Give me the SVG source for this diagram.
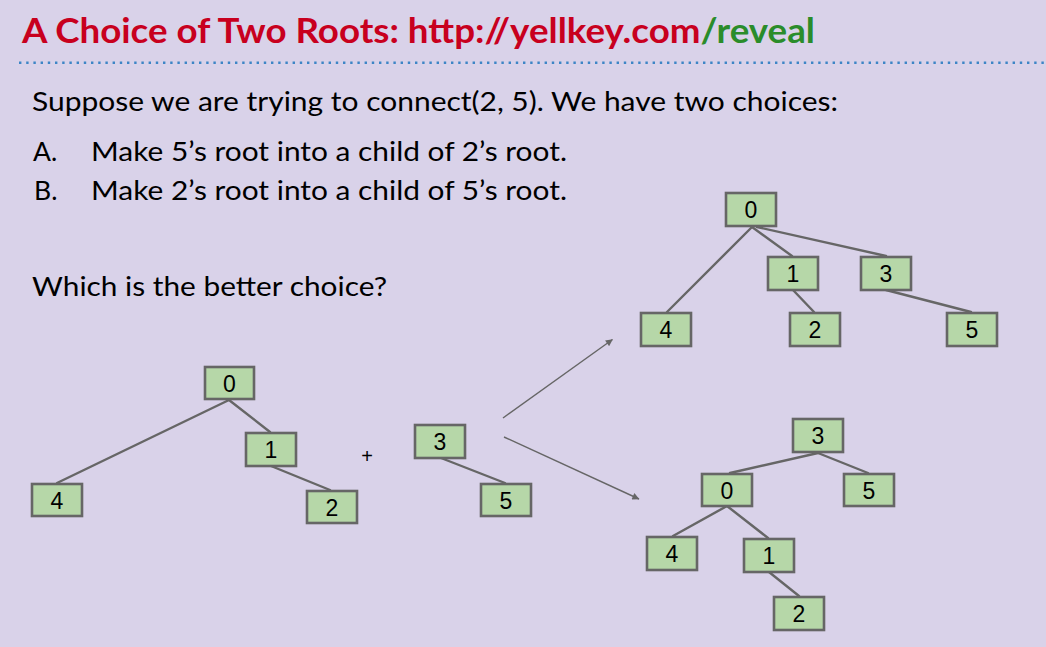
<svg xmlns="http://www.w3.org/2000/svg" width="1046" height="647" viewBox="0 0 1046 647">
  <defs>
    <marker id="arrow" viewBox="0 0 10 10" refX="9.5" refY="5" markerWidth="10" markerHeight="7" markerUnits="userSpaceOnUse" orient="auto">
      <path d="M0,0 L10,5 L0,10 z" fill="#666666"/>
    </marker>
    <style>
      .bg { fill: #d9d2e9; }
      .title { font-family: Lato, "Liberation Sans", sans-serif; font-weight: bold; font-size: 33.5px; fill: #c8001e; }
      .green { fill: #2a8c2a; }
      .body { font-family: Lato, "Liberation Sans", sans-serif; font-size: 26.5px; fill: #000000; }
      .node rect { fill: #b6d7a8; stroke: #666666; stroke-width: 2.6; }
      .node text { font-family: "Liberation Sans", Arial, sans-serif; font-size: 23px; fill: #000000; text-anchor: middle; }
      .edge { stroke: #666666; stroke-width: 2.4; fill: none; stroke-linecap: round; }
      .arrow { stroke: #666666; stroke-width: 1.4; fill: none; marker-end: url(#arrow); }
      .plus { font-family: "Liberation Sans", Arial, sans-serif; font-size: 20px; fill: #000000; text-anchor: middle; }
    </style>
  </defs>

  <rect class="bg" x="0" y="0" width="1046" height="647"/>

  <!-- Title -->
  <text class="title" x="22" y="43" textLength="793" lengthAdjust="spacingAndGlyphs">A Choice of Two Roots: http://yellkey.com<tspan class="green">/reveal</tspan></text>
  <line x1="19" y1="62.7" x2="1046" y2="62.7" stroke="#3d85c6" stroke-width="2.6" stroke-dasharray="2.4 4.8"/>

  <!-- Body text -->
  <text class="body" x="32" y="111" textLength="806" lengthAdjust="spacingAndGlyphs">Suppose we are trying to connect(2, 5). We have two choices:</text>
  <text class="body" x="33" y="160.5">A.</text>
  <text class="body" x="91" y="160.5" textLength="476" lengthAdjust="spacingAndGlyphs">Make 5’s root into a child of 2’s root.</text>
  <text class="body" x="34" y="200">B.</text>
  <text class="body" x="91" y="200" textLength="476" lengthAdjust="spacingAndGlyphs">Make 2’s root into a child of 5’s root.</text>
  <text class="body" x="32" y="296" textLength="355" lengthAdjust="spacingAndGlyphs">Which is the better choice?</text>

  <!-- Connectors -->
  <g id="connectors">
    <!-- left tree -->
    <line class="edge" x1="229" y1="400" x2="57" y2="483"/>
    <line class="edge" x1="229" y1="400" x2="270" y2="432"/>
    <line class="edge" x1="271" y1="466" x2="330" y2="490"/>
    <line class="edge" x1="441" y1="458" x2="505" y2="483"/>
    <!-- top-right tree -->
    <line class="edge" x1="752" y1="227" x2="667" y2="312"/>
    <line class="edge" x1="752" y1="227" x2="792" y2="256"/>
    <line class="edge" x1="757" y1="227" x2="886" y2="256"/>
    <line class="edge" x1="793" y1="290" x2="814" y2="312"/>
    <line class="edge" x1="886" y1="290" x2="971" y2="312"/>
    <!-- bottom-right tree -->
    <line class="edge" x1="818" y1="453" x2="730" y2="473"/>
    <line class="edge" x1="818" y1="453" x2="868" y2="473"/>
    <line class="edge" x1="727" y1="506" x2="673" y2="536"/>
    <line class="edge" x1="727" y1="506" x2="768" y2="538"/>
    <line class="edge" x1="769" y1="572" x2="799" y2="596"/>
    <!-- arrows -->
    <line class="arrow" x1="503" y1="418" x2="612.5" y2="339.5"/>
    <line class="arrow" x1="504" y1="437" x2="639" y2="499"/>
  </g>

  <text class="plus" x="367" y="463">+</text>

  <!-- Left tree nodes -->
  <g id="L0" class="node"><rect x="205" y="367" width="49" height="32"/><text x="229.5" y="392">0</text></g>
  <g id="L1" class="node"><rect x="246" y="433" width="50" height="33"/><text x="271" y="458">1</text></g>
  <g id="L4" class="node"><rect x="32" y="484" width="50" height="32"/><text x="57" y="509">4</text></g>
  <g id="L2" class="node"><rect x="307" y="491" width="50" height="32"/><text x="332" y="516">2</text></g>
  <g id="L3" class="node"><rect x="415" y="425" width="50" height="33"/><text x="440" y="450">3</text></g>
  <g id="L5" class="node"><rect x="481" y="484" width="50" height="32"/><text x="506" y="509">5</text></g>

  <!-- Top-right tree nodes -->
  <g id="T0" class="node"><rect x="726" y="193" width="50" height="33"/><text x="751" y="218">0</text></g>
  <g id="T1" class="node"><rect x="768" y="257" width="50" height="33"/><text x="793" y="282">1</text></g>
  <g id="T3" class="node"><rect x="861" y="257" width="50" height="33"/><text x="886" y="282">3</text></g>
  <g id="T4" class="node"><rect x="641" y="313" width="50" height="33"/><text x="666" y="338">4</text></g>
  <g id="T2" class="node"><rect x="790" y="313" width="50" height="33"/><text x="815" y="338">2</text></g>
  <g id="T5" class="node"><rect x="947" y="313" width="50" height="33"/><text x="972" y="338">5</text></g>

  <!-- Bottom-right tree nodes -->
  <g id="B3" class="node"><rect x="793" y="419" width="50" height="33"/><text x="818" y="444">3</text></g>
  <g id="B0" class="node"><rect x="702" y="474" width="50" height="32"/><text x="727" y="499">0</text></g>
  <g id="B5" class="node"><rect x="844" y="474" width="50" height="32"/><text x="869" y="499">5</text></g>
  <g id="B4" class="node"><rect x="647" y="537" width="50" height="33"/><text x="672" y="562">4</text></g>
  <g id="B1" class="node"><rect x="744" y="539" width="50" height="33"/><text x="769" y="564">1</text></g>
  <g id="B2" class="node"><rect x="774" y="597" width="50" height="33"/><text x="799" y="622">2</text></g>
</svg>
